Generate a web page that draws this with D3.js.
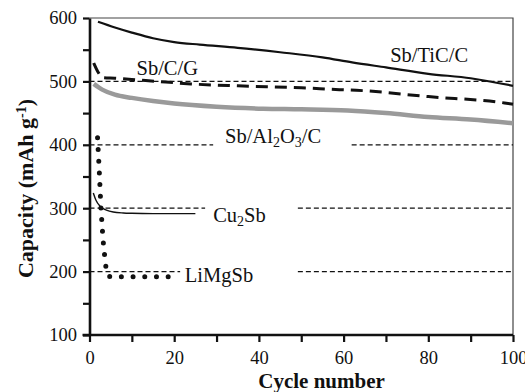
<!DOCTYPE html>
<html>
<head>
<meta charset="utf-8">
<script src="https://cdn.jsdelivr.net/npm/d3@7"></script>
<style>
  body { margin: 0; background: #fff; }
  svg text { font-family: "Liberation Serif", "Times New Roman", Times, serif; fill: #111; }
</style>
</head>
<body>
<div id="wrapper"></div>
<script>
// data (cycle, capacity mAh/g)
const sbTiC = [[2, 594], [6, 585], [10, 577], [15, 568], [20, 562], [26, 558], [35, 553], [45, 546], [55, 538], [62, 530], [70, 522], [80, 512], [90, 505], [100, 493]];
const sbCG = [[1, 529], [2, 515], [3, 506], [6, 505], [12, 502], [18, 499], [24, 496], [35, 493], [50, 490], [59, 487], [63, 486], [80, 476], [98, 466], [100, 464]];
const sbAl = [[1, 496], [3, 487], [6, 479], [10, 474], [15, 469], [20, 465], [30, 460], [41, 457], [50, 456], [61, 454], [70, 450], [80, 444], [90, 440], [100, 434]];
const cu2Sb = [[0.9, 324], [1.5, 313], [2.5, 303], [4, 297], [5.6, 294], [8, 292.5], [10, 292], [15, 291.5], [25, 291.5]];
const liMgSb = [[1.9, 411], [2.3, 360], [2.7, 300], [3.2, 250], [3.8, 210], [4.4, 193], [5, 192], [19, 192]];

// dashed reference levels and the cycle ranges they cover
const refLevels = [500, 400, 300, 200];
const refSegments = [
  [[0, 100]],
  [[0, 29.2], [61.9, 100]],
  [[0, 27.3], [49.2, 100]],
  [[0, 21.4], [49.2, 100]],
];

const labels = [
  { x: 71, y: 531, text: "Sb/TiC/C" },
  { x: 11.1, y: 510, text: "Sb/C/G" },
  { x: 32, y: 402.4, text: "Sb/Al2O3/C" },
  { x: 29.2, y: 278.7, text: "Cu2Sb" },
  { x: 22.5, y: 184, text: "LiMgSb" },
];

const xTicks = d3.range(0, 101, 10);
const yTicks = d3.range(100, 601, 50);

const serif = '"Liberation Serif", "Times New Roman", Times, serif';

const dimensions = {
  width: 525,
  height: 392,
  margin: { top: 18, right: 12, bottom: 57, left: 89.5 },
};
dimensions.boundedWidth = dimensions.width - dimensions.margin.left - dimensions.margin.right;
dimensions.boundedHeight = dimensions.height - dimensions.margin.top - dimensions.margin.bottom;

const wrapper = d3.select("#wrapper")
  .append("svg")
  .attr("width", dimensions.width)
  .attr("height", dimensions.height)
  .style("font-family", serif);

const bounds = wrapper.append("g")
  .attr("transform", `translate(${dimensions.margin.left},${dimensions.margin.top})`);

const xScale = d3.scaleLinear().domain([0, 100]).range([0, dimensions.boundedWidth]);
const yScale = d3.scaleLinear().domain([100, 600]).range([dimensions.boundedHeight, 0]);

// frame (top / right)
bounds.append("path")
  .attr("d", `M0,0H${dimensions.boundedWidth}V${dimensions.boundedHeight}`)
  .attr("fill", "none")
  .attr("stroke", "#444")
  .attr("stroke-width", 1.2);

// reference dashed lines
refLevels.forEach((lvl, i) => {
  refSegments[i].forEach(([a, b]) => {
    bounds.append("line")
      .attr("x1", xScale(a)).attr("x2", xScale(b))
      .attr("y1", yScale(lvl)).attr("y2", yScale(lvl))
      .attr("stroke", "#111")
      .attr("stroke-width", 1.2)
      .attr("stroke-dasharray", "5,3");
  });
});

const line = d3.line()
  .x((d) => xScale(d[0]))
  .y((d) => yScale(d[1]))
  .curve(d3.curveMonotoneX);

bounds.append("path").datum(sbAl)
  .attr("d", line).attr("fill", "none")
  .attr("stroke", "#9a9a9a").attr("stroke-width", 4.5);

bounds.append("path").datum(sbCG)
  .attr("d", line).attr("fill", "none")
  .attr("stroke", "#111").attr("stroke-width", 3)
  .attr("stroke-dasharray", "12,7");

bounds.append("path").datum(sbTiC)
  .attr("d", line).attr("fill", "none")
  .attr("stroke", "#111").attr("stroke-width", 2.2);

bounds.append("path").datum(cu2Sb)
  .attr("d", line).attr("fill", "none")
  .attr("stroke", "#111").attr("stroke-width", 1.4);

bounds.append("path").datum(liMgSb)
  .attr("d", d3.line().x((d) => xScale(d[0])).y((d) => yScale(d[1])))
  .attr("fill", "none")
  .attr("stroke", "#111").attr("stroke-width", 5)
  .attr("stroke-linecap", "round")
  .attr("stroke-dasharray", "0,11.7");

// labels (digits after letters become subscripts)
labels.forEach((l) => {
  const t = bounds.append("text")
    .attr("x", xScale(l.x))
    .attr("y", yScale(l.y))
    .style("font-family", serif)
    .style("font-size", "20.5px");
  let shifted = false;
  l.text.match(/[^0-9]+|[0-9]+/g).forEach((part) => {
    if (/^[0-9]+$/.test(part)) {
      t.append("tspan").attr("dy", 4).style("font-size", "14px").text(part);
      shifted = true;
    } else {
      t.append("tspan").attr("dy", shifted ? -4 : 0).text(part);
      shifted = false;
    }
  });
});

// axes
const xAxis = bounds.append("g")
  .attr("transform", `translate(0,${dimensions.boundedHeight})`)
  .call(d3.axisBottom(xScale).tickValues(xTicks)
    .tickFormat((d) => (d % 20 === 0 ? d : ""))
    .tickSizeInner(7).tickSizeOuter(0).tickPadding(9));

const yAxis = bounds.append("g")
  .call(d3.axisLeft(yScale).tickValues(yTicks)
    .tickFormat((d) => (d % 100 === 0 ? d : ""))
    .tickSizeInner(6.5).tickSizeOuter(0).tickPadding(6));

[xAxis, yAxis].forEach((ax) => {
  ax.attr("font-family", null).attr("font-size", null);
  ax.select(".domain").attr("stroke", "#111").attr("stroke-width", 2.6);
  ax.selectAll(".tick line").attr("stroke", "#111").attr("stroke-width", 2.2);
  ax.selectAll(".tick text")
    .style("font-family", serif)
    .style("font-size", "18.5px")
    .attr("fill", "#222");
});
xAxis.select(".domain").attr("d", `M-7,0H${dimensions.boundedWidth}`);

// axis titles
wrapper.append("text")
  .attr("x", 321.6)
  .attr("y", 388)
  .attr("text-anchor", "middle")
  .style("font-family", serif)
  .style("font-size", "21px")
  .style("font-weight", "bold")
  .text("Cycle number");

const yTitle = wrapper.append("text")
  .attr("transform", "translate(33,188.5) rotate(-90)")
  .attr("text-anchor", "middle")
  .style("font-family", serif)
  .style("font-size", "22px")
  .style("font-weight", "bold");
yTitle.append("tspan").text("Capacity (mAh g");
yTitle.append("tspan").attr("baseline-shift", "super").style("font-size", "14px").text("-1");
yTitle.append("tspan").text(")");
</script>
</body>
</html>
